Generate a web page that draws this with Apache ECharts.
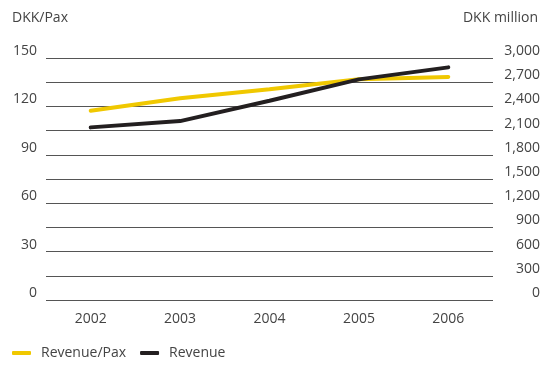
<!DOCTYPE html>
<html>
<head>
<meta charset="utf-8">
<script src="https://cdn.jsdelivr.net/npm/echarts@6/dist/echarts.min.js"></script>
<style>
  html, body { margin: 0; padding: 0; background: #fff; }
  #chart { width: 555px; height: 365px; }
</style>
</head>
<body>
<div id="chart"></div>
<script>
// Years on the x axis
const years = ['2002', '2003', '2004', '2005', '2006'];
// Revenue per passenger (DKK/Pax, left axis)
const revenuePerPax = [117.3, 125, 130.6, 136.8, 138.3];
// Total revenue (DKK million, right axis)
const revenue = [2140, 2218, 2470, 2735, 2884];

const FONT = 'Open Sans';
const TEXT = '#444444';
const SIZE = 14;

const chart = echarts.init(document.getElementById('chart'), null, { renderer: 'canvas' });

chart.setOption({
  animation: false,
  textStyle: { fontFamily: FONT },
  grid: { left: 46, right: 62, top: 58, bottom: 65, containLabel: false },
  legend: {
    left: 7,
    bottom: 0,
    itemWidth: 19,
    itemHeight: 4,
    itemGap: 14,
    icon: 'roundRect',
    textStyle: { fontFamily: FONT, fontSize: SIZE, color: TEXT, padding: [0, 0, 0, 5] },
    data: ['Revenue/Pax', 'Revenue']
  },
  xAxis: {
    type: 'category',
    data: years,
    boundaryGap: true,
    axisLine: { show: false },
    axisTick: { show: false },
    axisLabel: { margin: 12, fontSize: SIZE, color: TEXT, fontFamily: FONT }
  },
  yAxis: [
    {
      type: 'value',
      min: 0, max: 150, interval: 15,
      name: 'DKK/Pax',
      nameLocation: 'end',
      nameGap: 0,
      nameTextStyle: { fontSize: SIZE, color: TEXT, fontFamily: FONT, align: 'left', padding: [0, 0, 33, -34] },
      axisLine: { show: false },
      axisTick: { show: false },
      axisLabel: {
        margin: 9, fontSize: SIZE, color: TEXT, fontFamily: FONT, verticalAlign: 'bottom',
        formatter: v => (v % 30 === 0 ? String(v) : '')
      },
      splitLine: { lineStyle: { color: '#555555', width: 1 } }
    },
    {
      type: 'value',
      min: 0, max: 3000, interval: 300,
      name: 'DKK million',
      nameLocation: 'end',
      nameGap: 0,
      nameTextStyle: { fontSize: SIZE, color: TEXT, fontFamily: FONT, align: 'right', padding: [0, -45, 33, 0] },
      axisLine: { show: false },
      axisTick: { show: false },
      axisLabel: {
        margin: 47, align: 'right', fontSize: SIZE, color: TEXT, fontFamily: FONT, verticalAlign: 'bottom',
        formatter: v => v.toLocaleString('en-US')
      },
      splitLine: { show: false }
    }
  ],
  series: [
    {
      name: 'Revenue/Pax',
      type: 'line',
      yAxisIndex: 0,
      data: revenuePerPax,
      symbol: 'none',
      color: '#f0c800',
      lineStyle: { width: 4, color: '#f0c800', cap: 'round' },
      z: 2
    },
    {
      name: 'Revenue',
      type: 'line',
      yAxisIndex: 1,
      data: revenue,
      symbol: 'none',
      color: '#231f20',
      lineStyle: { width: 4, color: '#231f20', cap: 'round' },
      z: 3
    }
  ]
});
</script>
</body>
</html>
